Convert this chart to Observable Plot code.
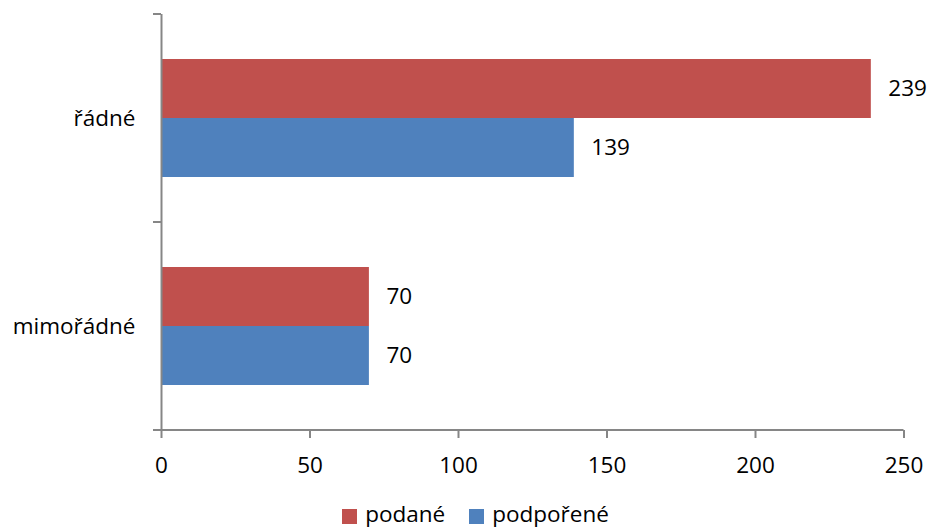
<!DOCTYPE html>
<html>
<head>
<meta charset="utf-8">
<script src="https://cdn.jsdelivr.net/npm/d3@7"></script>
<script src="https://cdn.jsdelivr.net/npm/@observablehq/plot@0.6"></script>
<style>
  body { margin: 0; background: #fff; font-family: "Open Sans", sans-serif; }
  #legend {
    display: flex; justify-content: center; align-items: center;
    height: 28px; margin-top: 0; padding-left: 24px;
    font-size: 22.5px; line-height: 1; color: #000;
  }
  .item { display: flex; align-items: center; margin: 0 12px; }
  .swatch { width: 15px; height: 15px; margin-right: 8px; position: relative; top: 2px; }
</style>
</head>
<body>
<div id="chart"></div>
<div id="legend"></div>
<script>
// Categories (one group of bars each) and the two series
const categories = ["řádné", "mimořádné"];
const series = ["podané", "podpořené"];
const podane = [239, 70];
const podporene = [139, 70];
const xTicks = [0, 50, 100, 150, 200, 250];
const colors = ["#C0504D", "#4F81BD"];
const axisGray = "#868686";

const rows = categories.flatMap((c, i) => [
  {category: c, series: series[0], value: podane[i]},
  {category: c, series: series[1], value: podporene[i]}
]);

const W = 927, H = 500;
const font = "Open Sans, sans-serif";
const fs = 22.5;

const chart = Plot.plot({
  width: W,
  height: H,
  marginLeft: 161,
  marginRight: 23.5,
  marginTop: 14,
  marginBottom: 70,
  style: {fontFamily: font, fontSize: fs + "px", color: "#000", background: "#fff"},
  x: {domain: [0, 250], axis: null},
  fy: {domain: categories, padding: 0, axis: null},
  y: {domain: series, paddingInner: 0, paddingOuter: 0.755, axis: null},
  color: {domain: series, range: colors},
  marks: [
    Plot.barX(rows, {fy: "category", y: "series", x: "value", fill: "series"}),
    Plot.ruleX([0], {stroke: axisGray, strokeWidth: 2}),
    Plot.text(rows, {
      fy: "category", y: "series", x: "value",
      text: d => String(d.value),
      textAnchor: "start", dx: 17, fontSize: fs, fill: "#000"
    }),
    Plot.axisFy({
      anchor: "left", tickSize: 0, tickPadding: 26, label: null,
      fontSize: fs, fill: "#000"
    }),
    Plot.axisX({
      ticks: xTicks, tickSize: 8, tickPadding: 19, label: null,
      stroke: axisGray, strokeWidth: 2, fill: "#000", fontSize: fs
    })
  ]
});

// Axis line along the bottom and the tick marks between category bands
const fy = chart.scale("fy");
const x = chart.scale("x");
const x0 = x.apply(0), x1 = x.apply(250);
const edges = categories.map(c => fy.apply(c));
const last = edges[edges.length - 1] + fy.bandwidth;
edges.push(last);
const g = d3.select(chart).append("g")
  .attr("stroke", axisGray).attr("stroke-width", 2);
g.selectAll("line.edge").data(edges).join("line")
  .attr("class", "edge")
  .attr("x1", x0 - 8).attr("x2", x0)
  .attr("y1", d => d).attr("y2", d => d);
g.append("line")
  .attr("x1", x0).attr("x2", x1)
  .attr("y1", last).attr("y2", last);

document.getElementById("chart").append(chart);

// Legend below the plot
const legend = d3.select("#legend");
series.forEach((s, i) => {
  const item = legend.append("div").attr("class", "item");
  item.append("div").attr("class", "swatch").style("background", colors[i]);
  item.append("span").text(s);
});
</script>
</body>
</html>
